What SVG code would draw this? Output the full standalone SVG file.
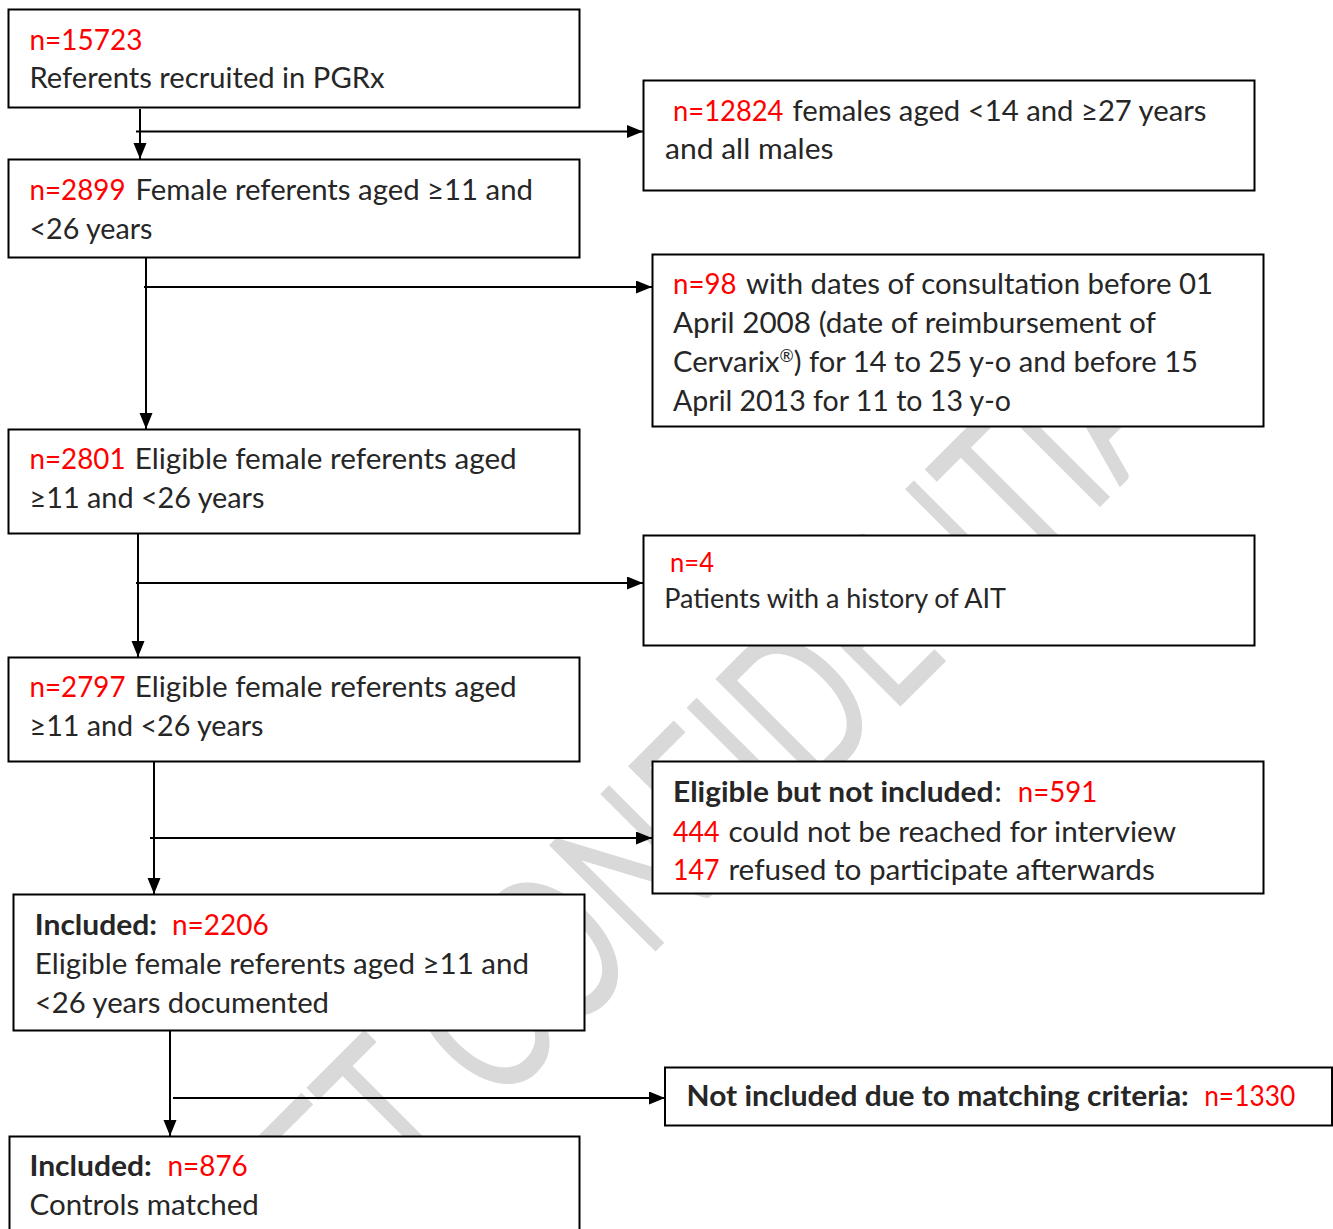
<svg xmlns="http://www.w3.org/2000/svg" width="1333" height="1229" viewBox="0 0 1333 1229">
<defs>
<style>
.box{fill:#ffffff;stroke:#000000;stroke-width:2}
.t{font-family:Lato,"Liberation Sans",sans-serif;font-size:29px;fill:#262626}
.s{font-size:27px}
.r{fill:#ff0000}
.b{font-weight:bold}
.wm{font-family:Lato,"Liberation Sans",sans-serif;font-size:210px;fill:#d9d9d9}
.c{fill:none;stroke:#000000;stroke-width:2}
</style>
<marker id="ah" markerUnits="userSpaceOnUse" markerWidth="17" markerHeight="14" refX="16" refY="6.5" orient="auto">
<path d="M0,0 L16,6.5 L0,13 Z" fill="#000000"/>
</marker>
</defs>
<rect width="1333" height="1229" fill="#ffffff"/>
<g id="watermark" transform="translate(139.5,1467.5) rotate(-45)">
<text class="wm" x="0" y="0" textLength="1560" lengthAdjust="spacingAndGlyphs">DRAFT CONFIDENTIAL</text>
</g>
<g id="connectors">
<line class="c" x1="140" y1="109" x2="140" y2="159" marker-end="url(#ah)"/>
<line class="c" x1="136" y1="131.5" x2="643" y2="131.5" marker-end="url(#ah)"/>
<line class="c" x1="146" y1="258" x2="146" y2="429" marker-end="url(#ah)"/>
<line class="c" x1="144" y1="287" x2="652" y2="287" marker-end="url(#ah)"/>
<line class="c" x1="138" y1="534" x2="138" y2="657" marker-end="url(#ah)"/>
<line class="c" x1="136" y1="583" x2="643" y2="583" marker-end="url(#ah)"/>
<line class="c" x1="154" y1="762" x2="154" y2="894" marker-end="url(#ah)"/>
<line class="c" x1="150" y1="838" x2="652" y2="838" marker-end="url(#ah)"/>
<line class="c" x1="170" y1="1031" x2="170" y2="1136" marker-end="url(#ah)"/>
<line class="c" x1="173" y1="1098" x2="665" y2="1098" marker-end="url(#ah)"/>
</g>
<g id="n15723">
<rect class="box" x="8.5" y="9.5" width="571" height="98"/>
<text class="t r" x="29.5" y="50" textLength="113" lengthAdjust="spacingAndGlyphs">n=15723</text>
<text class="t" x="29.5" y="88" textLength="355" lengthAdjust="spacingAndGlyphs">Referents recruited in PGRx</text>
</g>
<g id="n12824">
<rect class="box" x="643.5" y="80.5" width="611" height="110"/>
<text class="t r" x="673" y="120.5" textLength="110.5" lengthAdjust="spacingAndGlyphs">n=12824</text>
<text class="t" x="792.5" y="120.5" textLength="414" lengthAdjust="spacingAndGlyphs">females aged &lt;14 and ≥27 years</text>
<text class="t" x="665" y="159" textLength="168.5" lengthAdjust="spacingAndGlyphs">and all males</text>
</g>
<g id="n2899">
<rect class="box" x="8.5" y="159.5" width="571" height="98"/>
<text class="t r" x="29.5" y="200" textLength="96" lengthAdjust="spacingAndGlyphs">n=2899</text>
<text class="t" x="135.5" y="200" textLength="397.5" lengthAdjust="spacingAndGlyphs">Female referents aged ≥11 and</text>
<text class="t" x="29.5" y="239" textLength="123" lengthAdjust="spacingAndGlyphs">&lt;26 years</text>
</g>
<g id="n98">
<rect class="box" x="652.5" y="254.5" width="611" height="172"/>
<text class="t r" x="673" y="294" textLength="63.5" lengthAdjust="spacingAndGlyphs">n=98</text>
<text class="t" x="746" y="294" textLength="467" lengthAdjust="spacingAndGlyphs">with dates of consultation before 01</text>
<text class="t" x="673" y="333" textLength="483" lengthAdjust="spacingAndGlyphs">April 2008 (date of reimbursement of</text>
<text class="t" x="673" y="372" textLength="525" lengthAdjust="spacingAndGlyphs">Cervarix<tspan font-size="17" dy="-10">®</tspan><tspan dy="10">) for 14 to 25 y-o and before 15</tspan></text>
<text class="t" x="673" y="411" textLength="338" lengthAdjust="spacingAndGlyphs">April 2013 for 11 to 13 y-o</text>
</g>
<g id="n2801">
<rect class="box" x="8.5" y="429.5" width="571" height="104"/>
<text class="t r" x="29.5" y="469" textLength="96" lengthAdjust="spacingAndGlyphs">n=2801</text>
<text class="t" x="134.7" y="469" textLength="382" lengthAdjust="spacingAndGlyphs">Eligible female referents aged</text>
<text class="t" x="29.5" y="508" textLength="235" lengthAdjust="spacingAndGlyphs">≥11 and &lt;26 years</text>
</g>
<g id="n4">
<rect class="box" x="643.5" y="535.5" width="611" height="110"/>
<text class="t s r" x="670" y="572" textLength="44" lengthAdjust="spacingAndGlyphs">n=4</text>
<text class="t s" x="664.3" y="608" textLength="341.7" lengthAdjust="spacingAndGlyphs">Patients with a history of AIT</text>
</g>
<g id="n2797">
<rect class="box" x="8.5" y="657.5" width="571" height="104"/>
<text class="t r" x="29.5" y="697" textLength="96" lengthAdjust="spacingAndGlyphs">n=2797</text>
<text class="t" x="134.7" y="697" textLength="382" lengthAdjust="spacingAndGlyphs">Eligible female referents aged</text>
<text class="t" x="29.5" y="736" textLength="234" lengthAdjust="spacingAndGlyphs">≥11 and &lt;26 years</text>
</g>
<g id="n591">
<rect class="box" x="652.5" y="761.5" width="611" height="132"/>
<text class="t b" x="673" y="802" textLength="320.5" lengthAdjust="spacingAndGlyphs">Eligible but not included</text>
<text class="t" x="994.5" y="802">:</text>
<text class="t r" x="1017.8" y="802" textLength="79.6" lengthAdjust="spacingAndGlyphs">n=591</text>
<text class="t r" x="673" y="842" textLength="46.5" lengthAdjust="spacingAndGlyphs">444</text>
<text class="t" x="728.4" y="842" textLength="447.6" lengthAdjust="spacingAndGlyphs">could not be reached for interview</text>
<text class="t r" x="673" y="880" textLength="46.5" lengthAdjust="spacingAndGlyphs">147</text>
<text class="t" x="728.4" y="880" textLength="426.4" lengthAdjust="spacingAndGlyphs">refused to participate afterwards</text>
</g>
<g id="n2206">
<rect class="box" x="13.5" y="894.5" width="571" height="136"/>
<text class="t b" x="34.8" y="935" textLength="122.3" lengthAdjust="spacingAndGlyphs">Included:</text>
<text class="t r" x="171.9" y="935" textLength="96.9" lengthAdjust="spacingAndGlyphs">n=2206</text>
<text class="t" x="34.8" y="974" textLength="494.2" lengthAdjust="spacingAndGlyphs">Eligible female referents aged ≥11 and</text>
<text class="t" x="34.8" y="1013" textLength="294.2" lengthAdjust="spacingAndGlyphs">&lt;26 years documented</text>
</g>
<g id="n1330">
<rect class="box" x="665" y="1067.5" width="667" height="58"/>
<text class="t b" x="686.6" y="1106" textLength="502.2" lengthAdjust="spacingAndGlyphs">Not included due to matching criteria:</text>
<text class="t r" x="1204.2" y="1106" textLength="91" lengthAdjust="spacingAndGlyphs">n=1330</text>
</g>
<g id="n876">
<rect class="box" x="9.5" y="1136.5" width="570" height="110"/>
<text class="t b" x="29.5" y="1176" textLength="122.3" lengthAdjust="spacingAndGlyphs">Included:</text>
<text class="t r" x="167.4" y="1176" textLength="80.4" lengthAdjust="spacingAndGlyphs">n=876</text>
<text class="t" x="29.5" y="1215" textLength="229.4" lengthAdjust="spacingAndGlyphs">Controls matched</text>
</g>
</svg>
